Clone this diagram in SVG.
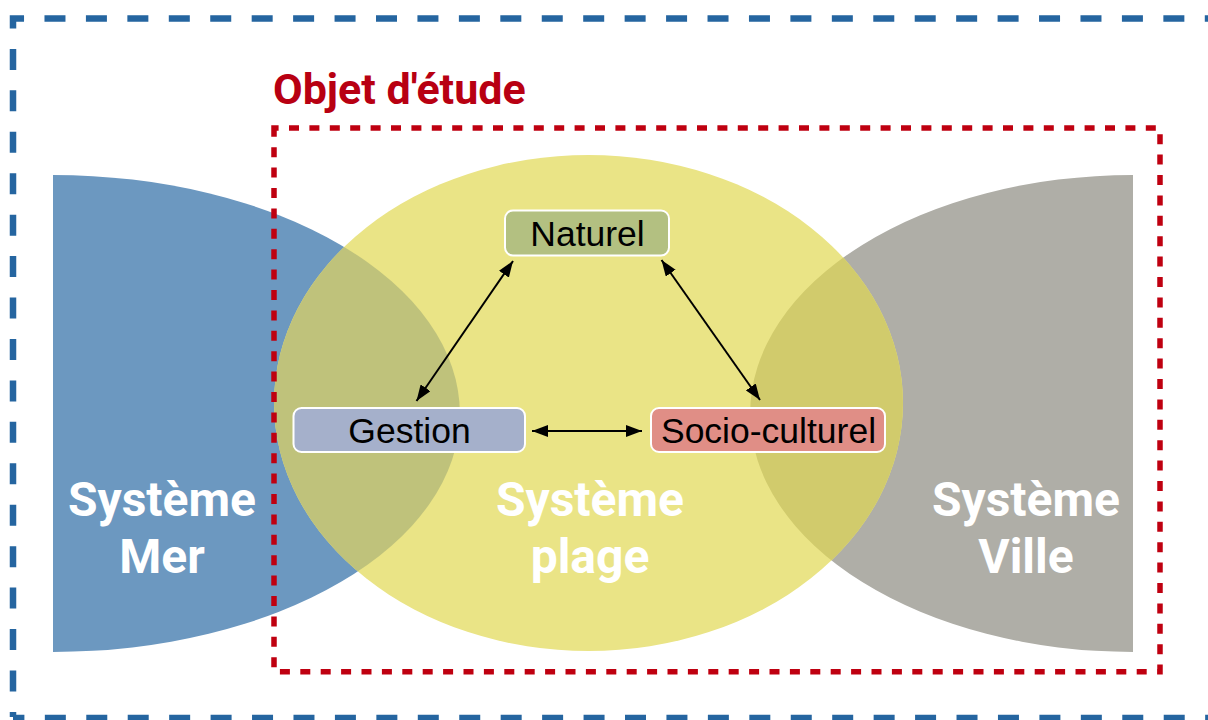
<svg xmlns="http://www.w3.org/2000/svg" xmlns:xlink="http://www.w3.org/1999/xlink" width="1208" height="720" viewBox="0 0 1208 720">
<style>
  .sys { font-family: Roboto, "Liberation Sans", sans-serif; font-weight: 700; font-size: 48px; fill: #ffffff; text-anchor: middle; }
  .box rect { stroke: #ffffff; stroke-width: 2; }
  .box text { font-family: "Liberation Sans", Arial, sans-serif; font-size: 35.5px; fill: #000000; text-anchor: middle; }
  .conn line { stroke: #000000; stroke-width: 2; marker-start: url(#ah); marker-end: url(#ah); }
  .frame-blue { fill: none; stroke: #2565a0; stroke-width: 6.5; stroke-dasharray: 21 20.44; }
  .frame-red { fill: none; stroke: #bf0010; stroke-width: 5.5; stroke-dasharray: 10 10.4; }
</style>
<defs>
  <marker id="ah" viewBox="0 0 16 12" refX="16" refY="6" markerWidth="16" markerHeight="12" markerUnits="userSpaceOnUse" orient="auto-start-reverse">
    <path d="M0,0 L16,6 L0,12 z" fill="#000000"/>
  </marker>
  <path id="merShape" d="M53,175 A407,238.5 0 0 1 53,652 Z"/>
  <path id="villeShape" d="M1133,175 A383,238.5 0 0 0 1133,652 Z"/>
  <clipPath id="clipMer"><use xlink:href="#merShape"/></clipPath>
  <clipPath id="clipVille"><use xlink:href="#villeShape"/></clipPath>
</defs>

<!-- outer blue dashed frame -->
<g id="frame-outer">
  <path class="frame-blue" d="M13,717 V18.5 H1240" stroke-dashoffset="15.94"/>
  <path class="frame-blue" d="M13,718 H1240" stroke-dashoffset="9.6"/>
</g>

<!-- systems -->
<g id="systeme-mer">
  <use xlink:href="#merShape" fill="#6c98c0"/>
</g>
<g id="systeme-ville">
  <use xlink:href="#villeShape" fill="#afaea7"/>
</g>
<g id="systeme-plage">
  <ellipse cx="588.5" cy="403" rx="314.5" ry="248" fill="#eae486"/>
  <ellipse cx="588.5" cy="403" rx="314.5" ry="248" fill="#bfc27b" clip-path="url(#clipMer)"/>
  <ellipse cx="588.5" cy="403" rx="314.5" ry="248" fill="#d1cb6c" clip-path="url(#clipVille)"/>
</g>

<!-- red dotted study frame -->
<g id="objet-etude">
  <path class="frame-red" d="M274,128 H1160 V671.7 H274 Z" stroke-dashoffset="5.4"/>
  <text x="273" y="104" font-family="Roboto, 'Liberation Sans', sans-serif" font-weight="700" font-size="43" fill="#b80012">Objet d'étude</text>
</g>

<!-- system labels -->
<g id="labels">
  <text class="sys" x="162" y="516">Système</text>
  <text class="sys" x="162" y="573">Mer</text>
  <text class="sys" x="590" y="516">Système</text>
  <text class="sys" x="590" y="573">plage</text>
  <text class="sys" x="1026" y="516">Système</text>
  <text class="sys" x="1026" y="573">Ville</text>
</g>

<!-- connectors -->
<g id="connectors" class="conn">
  <line x1="513" y1="261" x2="416.5" y2="401"/>
  <line x1="661.5" y1="260" x2="760" y2="400"/>
  <line x1="532" y1="431" x2="642" y2="431"/>
</g>

<!-- nodes -->
<g id="node-naturel" class="box">
  <rect x="505" y="210.5" width="164" height="45" rx="8" fill="#b3c081"/>
  <text x="587.5" y="245.5">Naturel</text>
</g>
<g id="node-gestion" class="box">
  <rect x="293.5" y="408" width="231.5" height="44" rx="8" fill="#a5b0cb"/>
  <text x="409.5" y="442.5">Gestion</text>
</g>
<g id="node-socio" class="box">
  <rect x="651" y="408" width="234" height="44" rx="8" fill="#e08e86"/>
  <text x="768.5" y="442.5">Socio-culturel</text>
</g>
</svg>
